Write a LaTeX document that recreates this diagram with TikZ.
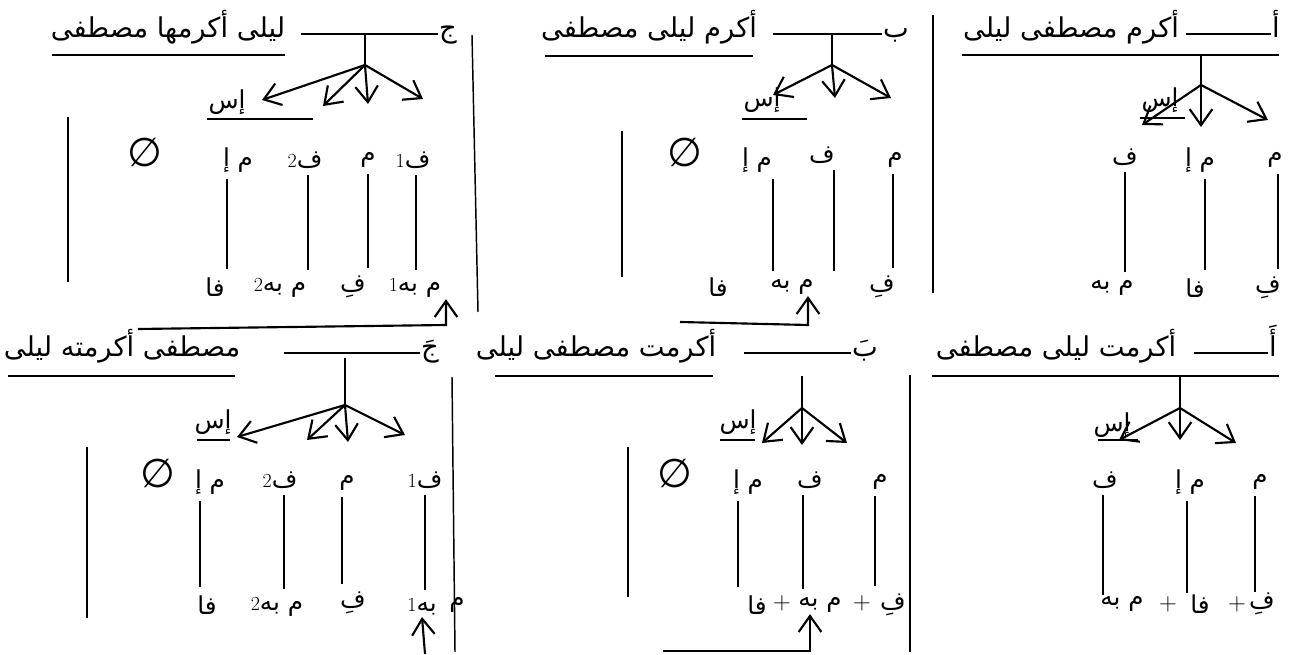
\documentclass[tikz,border=0pt]{standalone}
\usepackage{fontspec}
\usepackage{amssymb}
\usetikzlibrary{arrows.meta}
\newfontfamily\arabicfont[Script=Arabic]{DejaVu Sans}
\TeXXeTstate=1
\newcommand{\arb}[1]{{\arabicfont\beginR #1\endR}}
\newcommand{\idx}[1]{{\fontsize{15}{15}\selectfont #1}}

\begin{document}
\begin{tikzpicture}[x=0.75pt, y=-0.75pt,
    title/.style={inner sep=1pt, anchor=base, font=\fontsize{20.5}{24}\selectfont},
    lbl/.style={inner sep=1pt, font=\fontsize{18.5}{20}\selectfont},
    empty/.style={inner sep=0pt, font=\fontsize{30}{30}\selectfont},
    rule/.style={line width=1.1pt},
    stick/.style={line width=1.1pt, shorten <=4pt, shorten >=5pt},
    arrow/.style={-{Straight Barb[length=12pt,width=17pt]}, line width=1.6pt}
]
\useasboundingbox (0,0) rectangle (1293,655);

% Nodes (top right)
\node[title] (letA) at (1276,38) {\arb{أ}};
\node[title] (sentA) at (1071,38) {\arb{أكرم مصطفى ليلى}};
\node[lbl] (isA) at (1160,100) {\arb{إس}};
\node[lbl] (mA) at (1275,160) {\arb{م}};
\node[lbl] (miA) at (1200,160) {\arb{م إ}};
\node[lbl] (fA) at (1125,157) {\arb{ف}};
\node[lbl] (fiA) at (1268,288) {\arb{فِ}};
\node[lbl] (faA) at (1195,288) {\arb{فا}};
\node[lbl] (mbA) at (1112,288) {\arb{م به}};
\coordinate (jA) at (1201,85);

% Nodes (top middle)
\node[title] (letB) at (896,38) {\arb{ب}};
\node[title] (sentB) at (649,38) {\arb{أكرم ليلى مصطفى}};
\node[lbl] (isB) at (762,100) {\arb{إس}};
\node[empty] (empB) at (685,153) {\arb{∅}};
\node[lbl] (miB) at (757,160) {\arb{م إ}};
\node[lbl] (fB) at (822,155) {\arb{ف}};
\node[lbl] (mB) at (895,160) {\arb{م}};
\node[lbl] (faB) at (718,287) {\arb{فا}};
\node[lbl] (mbB) at (792,287) {\arb{م به}};
\node[lbl] (fiB) at (882,287) {\arb{فِ}};
\coordinate (jB) at (832,65);
\coordinate (tailB) at (680,322);

% Nodes (top left)
\node[title] (letC) at (448,38) {\arb{ج}};
\node[title] (sentC) at (168,38) {\arb{ليلى أكرمها مصطفى}};
\node[lbl] (isC) at (227,102) {\arb{إس}};
\node[empty] (empC) at (145,153) {\arb{∅}};
\node[lbl] (miC) at (238,160) {\arb{م إ}};
\node[lbl] (f2C) at (305,160) {\idx{2}\arb{ف}};
\node[lbl] (mC) at (368,160) {\arb{م}};
\node[lbl] (f1C) at (413,160) {\idx{1}\arb{ف}};
\node[lbl] (faC) at (215,287) {\arb{فا}};
\node[lbl] (mb2C) at (280,288) {\idx{2}\arb{م به}};
\node[lbl] (fiC) at (353,287) {\arb{فِ}};
\node[lbl] (mb1C) at (415,288) {\idx{1}\arb{م به}};
\coordinate (jC) at (365,65);
\coordinate (tailC) at (138,329);

% Nodes (bottom right)
\node[title] (letD) at (1273,357) {\arb{أَ}};
\node[title] (sentD) at (1056,357) {\arb{أكرمت ليلى مصطفى}};
\node[lbl] (isD) at (1112,425) {\arb{إس}};
\node[lbl] (mD) at (1260,482) {\arb{م}};
\node[lbl] (miD) at (1190,482) {\arb{م إ}};
\node[lbl] (fD) at (1105,480) {\arb{ف}};
\node[lbl] (fiD) at (1262,604) {\arb{فِ}};
\node[lbl] (p1D) at (1237,604) {+};
\node[lbl] (faD) at (1200,604) {\arb{فا}};
\node[lbl] (p2D) at (1168,604) {+};
\node[lbl] (mbD) at (1122,604) {\arb{م به}};
\coordinate (jD) at (1180,408);

% Nodes (bottom middle)
\node[title] (letE) at (865,357) {\arb{بَ}};
\node[title] (sentE) at (596,357) {\arb{أكرمت مصطفى ليلى}};
\node[lbl] (isE) at (738,422) {\arb{إس}};
\node[empty] (empE) at (675,473) {\arb{∅}};
\node[lbl] (miE) at (748,482) {\arb{م إ}};
\node[lbl] (fE) at (810,480) {\arb{ف}};
\node[lbl] (mE) at (880,482) {\arb{م}};
\node[lbl] (faE) at (757,605) {\arb{فا}};
\node[lbl] (p1E) at (782,603) {+};
\node[lbl] (mbE) at (820,605) {\arb{م به}};
\node[lbl] (p2E) at (862,603) {+};
\node[lbl] (fiE) at (893,605) {\arb{فِ}};
\coordinate (jE) at (802,408);
\coordinate (tailE) at (663,651);

% Nodes (bottom left)
\node[title] (letF) at (430,357) {\arb{جَ}};
\node[title] (sentF) at (122,357) {\arb{مصطفى أكرمته ليلى}};
\node[lbl] (isF) at (213,422) {\arb{إس}};
\node[empty] (empF) at (158,473) {\arb{∅}};
\node[lbl] (miF) at (210,482) {\arb{م إ}};
\node[lbl] (f2F) at (280,480) {\idx{2}\arb{ف}};
\node[lbl] (mF) at (347,483) {\arb{م}};
\node[lbl] (f1F) at (425,480) {\idx{1}\arb{ف}};
\node[lbl] (faF) at (207,605) {\arb{فا}};
\node[lbl] (mb2F) at (277,607) {\idx{2}\arb{م به}};
\node[lbl] (fiF) at (353,603) {\arb{فِ}};
\node[lbl] (b1F) at (422,607) {\idx{1}\arb{به}};
\node[lbl] (mF2) at (457,605) {\arb{م}};
\coordinate (jF) at (345,405);
\coordinate (tailF) at (425,654);

% Lines
\draw[rule] ([yshift=3pt]letA.base west) -- ++(-85,0);
\draw[rule] (962,55) -- (1279,55);
\draw[rule] (1201,55) -- (jA);
\draw[rule] (1140,118) -- (1185,118);
\draw[stick] (mA.south -| 1278,0) -- (fiA.north -| 1278,0);
\draw[stick] (miA.south -| 1205,0) -- (faA.north -| 1205,0);
\draw[stick] (fA.south) -- (fA.south |- mbA.north);
\draw[rule] (933,15) -- (933,293);

\draw[rule] ([yshift=3pt]letB.base west) -- ++(-109,0);
\draw[rule] (545,56) -- (753,56);
\draw[rule] (832,34) -- (jB);
\draw[rule] (742,119) -- (807,119);
\draw[stick] (miB.south -| 773,0) -- (mbB.north -| 773,0);
\draw[stick] (fB.south -| 834,0) -- (mbB.north -| 834,0);
\draw[stick] (mB.south -| 893,0) -- (fiB.north -| 893,0);
\draw[rule] (622,131) -- (622,277);

\draw[rule] ([yshift=3pt]letC.base west) -- ++(-137,0);
\draw[rule] (52,55) -- (285,55);
\draw[rule] (365,34) -- (jC);
\draw[rule] (207,119) -- (313,119);
\draw[stick] (miC.south -| 227,0) -- (faC.north -| 227,0);
\draw[stick] (f2C.south -| 308,0) -- (mb2C.north -| 308,0);
\draw[stick] (mC.south) -- (mC.south |- fiC.north);
\draw[stick] (f1C.south -| 416,0) -- (mb1C.north -| 416,0);
\draw[rule] (68,117) -- (68,282);
\draw[rule] (472,35) -- (478,312);

\draw[rule] ([yshift=3pt]letD.base west) -- ++(-74,0);
\draw[rule] (932,376) -- (1279,376);
\draw[rule] (1180,376) -- (jD);
\draw[rule] (1098,440) -- (1138,440);
\draw[rule, shorten <=4pt] (mD.south -| 1255,0) -- (fiD.north -| 1255,0);
\draw[rule, shorten <=4pt] (miD.south -| 1187,0) -- (faD.north -| 1187,0);
\draw[rule, shorten <=4pt] (fD.south -| 1103,0) -- (mbD.north -| 1103,0);
\draw[rule] (910,375) -- (910,652);

\draw[rule] ([yshift=3pt]letE.base west) -- ++(-107,0);
\draw[rule] (495,376) -- (713,376);
\draw[rule] (802,376) -- (jE);
\draw[rule] (720,440) -- (755,440);
\draw[stick] (miE.south -| 738,0) -- (faE.north -| 738,0);
\draw[stick] (fE.south -| 803,0) -- (mbE.north -| 803,0);
\draw[stick] (mE.south -| 875,0) -- (fiE.north -| 875,0);
\draw[rule] (628,447) -- (628,597);

\draw[rule] ([yshift=3pt]letF.base west) -- ++(-136,0);
\draw[rule] (8,376) -- (235,376);
\draw[rule] (345,358) -- (jF);
\draw[rule] (197,440) -- (230,440);
\draw[stick] (miF.south -| 200,0) -- (faF.north -| 200,0);
\draw[stick] (f2F.south -| 284,0) -- (mb2F.north -| 284,0);
\draw[stick] (mF.south -| 342,0) -- (fiF.north -| 342,0);
\draw[stick] (f1F.south -| 425,0) -- (b1F.north -| 425,0);
\draw[rule] (87,447) -- (87,618);
\draw[rule] (452,377) -- (455,652);

% Arrows
\draw[arrow] (jA) -- ++(-59,40);
\draw[arrow] (jA) -- ++(0,42);
\draw[arrow] (jA) -- ++(67,35);

\draw[arrow] (jB) -- ++(-59,30);
\draw[arrow] (jB) -- ++(3,33);
\draw[arrow] (jB) -- ++(59,33);
\draw[arrow] (tailB) -- ++(128,3) -- (mbB.south -| 808,0);

\draw[arrow] (jC) -- ++(-103,35);
\draw[arrow] (jC) -- ++(-42,41);
\draw[arrow] (jC) -- ++(3,39);
\draw[arrow] (jC) -- ++(58,34);
\draw[arrow] (tailC) -- ++(308,-4) -- (mb1C.south -| 446,0);

\draw[arrow] (jD) -- ++(-61,32);
\draw[arrow] (jD) -- ++(0,32);
\draw[arrow] (jD) -- ++(56,35);

\draw[arrow] (jE) -- ++(-40,35);
\draw[arrow] (jE) -- ++(0,37);
\draw[arrow] (jE) -- ++(45,35);
\draw[arrow] (tailE) -- ++(147,0) -- (mbE.south -| 810,0);

\draw[arrow] (jF) -- ++(-108,32);
\draw[arrow] (jF) -- ++(-38,35);
\draw[arrow] (jF) -- ++(3,37);
\draw[arrow] (jF) -- ++(60,30);
\draw[arrow] (tailF) -- (b1F.south);

\end{tikzpicture}
\end{document}
